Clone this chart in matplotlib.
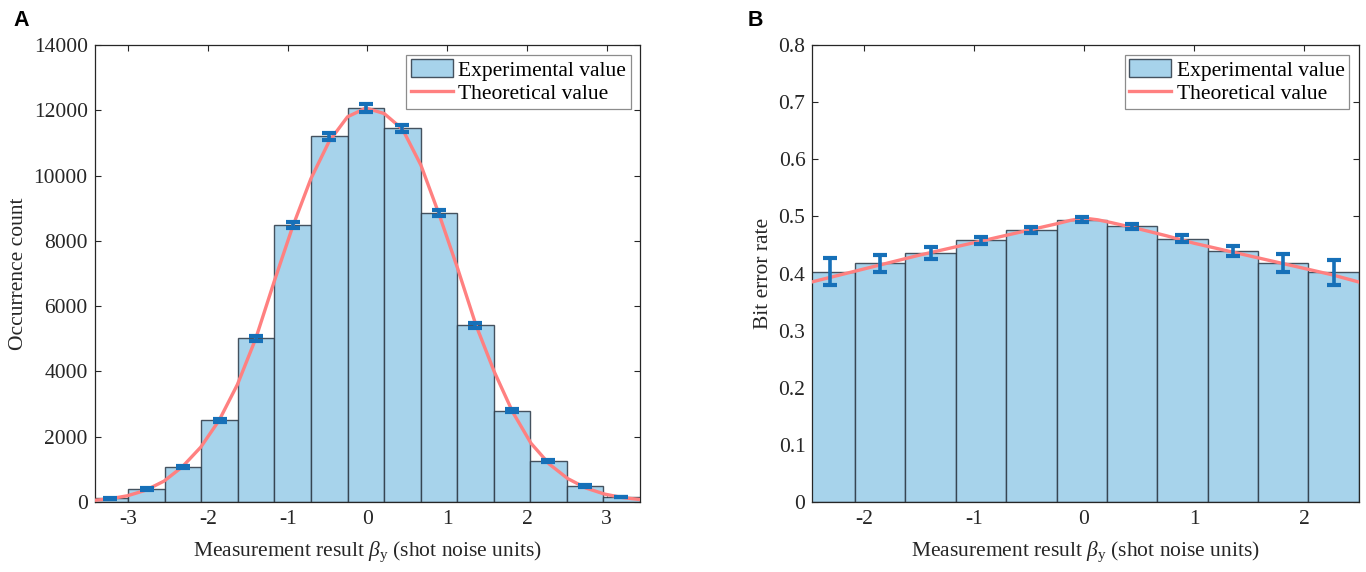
import matplotlib.pyplot as plt

plt.rcParams['font.family'] = 'Liberation Serif'
plt.rcParams['mathtext.fontset'] = 'custom'
plt.rcParams['mathtext.rm'] = 'Liberation Serif'
plt.rcParams['mathtext.it'] = 'Liberation Serif:italic'
plt.rcParams['axes.unicode_minus'] = False

# --- panel A: histogram of measurement results ---
bin_width = 0.458
centers_a = [-3.227, -2.769, -2.311, -1.853, -1.395, -0.937, -0.479, -0.021,
             0.437, 0.895, 1.353, 1.811, 2.269, 2.727, 3.185]
counts_a = [110, 400, 1082, 2502, 5014, 8475, 11202, 12080,
            11447, 8862, 5412, 2797, 1246, 490, 150]
count_err_a = [12, 20, 35, 50, 71, 92, 106, 125, 107, 94, 74, 53, 35, 22, 12]

theory_x_a = [-3.41, -3.24, -3.01, -2.78, -2.55, -2.32, -2.09, -1.86, -1.63,
              -1.40, -1.17, -0.94, -0.71, -0.48, -0.25, -0.02, 0.21, 0.44,
              0.67, 0.90, 1.13, 1.36, 1.59, 1.82, 2.05, 2.28, 2.51, 2.74,
              2.97, 3.20, 3.43]
theory_y_a = [54, 94, 190, 360, 640, 1080, 1680, 2500, 3600, 5010, 6750, 8420,
              9900, 11050, 11800, 12070, 11900, 11420, 10320, 8800, 7160, 5420,
              3990, 2760, 1800, 1160, 718, 427, 244, 134, 71]

# --- panel B: bit error rate per bin ---
centers_b = [-2.311, -1.853, -1.395, -0.937, -0.479, -0.021,
             0.437, 0.895, 1.353, 1.811, 2.269]
ber_b = [0.403, 0.418, 0.436, 0.458, 0.476, 0.494, 0.483, 0.461, 0.439, 0.418, 0.402]
ber_err_b = [0.024, 0.0147, 0.011, 0.0056, 0.0047, 0.0044, 0.0044, 0.006, 0.009,
             0.0156, 0.0225]

theory_x_b = [-2.5, -2.25, -2.0, -1.75, -1.5, -1.25, -1.0, -0.75, -0.5, -0.25,
              -0.125, 0.0, 0.125, 0.25, 0.5, 0.75, 1.0, 1.25, 1.5, 1.75, 2.0,
              2.25, 2.5]
theory_y_b = [0.384, 0.396, 0.408, 0.420, 0.432, 0.443, 0.454, 0.465, 0.476,
              0.487, 0.493, 0.497, 0.494, 0.489, 0.478, 0.466, 0.453, 0.442,
              0.431, 0.420, 0.409, 0.398, 0.385]

bar_color = '#A7D3EB'
bar_edge = (0.17, 0.22, 0.27, 0.85)
err_color = '#1670B8'
curve_color = '#FF8080'
axis_color = '#262626'
fs = 15.5

fig = plt.figure(figsize=(13.66, 5.72), dpi=100)
ax_a = fig.add_axes([0.0693, 0.1224, 0.3994, 0.7989])
ax_b = fig.add_axes([0.5947, 0.1224, 0.4002, 0.7989])


def draw_panel(ax, centers, heights, errs, tx, ty):
    bars = ax.bar(centers, heights, width=bin_width, color=bar_color,
                  edgecolor=bar_edge, linewidth=1.0, zorder=2,
                  label='Experimental value')
    line, = ax.plot(tx, ty, color=curve_color, lw=2.4, zorder=3,
                    label='Theoretical value')
    ax.errorbar(centers, heights, yerr=errs, fmt='none', ecolor=err_color,
                elinewidth=2.6, capsize=4.9, capthick=3.0, zorder=4)
    leg = ax.legend(handles=[bars, line], loc='upper right', fontsize=fs,
                    fancybox=False, framealpha=1, borderpad=0.22,
                    labelspacing=0.1, handlelength=1.95, handleheight=0.9,
                    handletextpad=0.25, borderaxespad=0.45)
    leg.get_frame().set_edgecolor('#8c8c8c')
    leg.get_frame().set_linewidth(0.9)
    for s in ax.spines.values():
        s.set_color(axis_color)
        s.set_linewidth(0.9)
    ax.tick_params(direction='in', top=True, right=True, length=4.3,
                   width=0.8, labelsize=fs, colors=axis_color)
    ax.tick_params(axis='x', pad=6)
    ax.tick_params(axis='y', pad=5)
    ax.set_xlabel(r'Measurement result $\beta_\mathrm{y}$ (shot noise units)',
                  fontsize=fs, color=axis_color, labelpad=7)


draw_panel(ax_a, centers_a, counts_a, count_err_a, theory_x_a, theory_y_a)
ax_a.set_xlim(-3.42, 3.42)
ax_a.set_ylim(0, 14000)
ax_a.set_xticks([-3, -2, -1, 0, 1, 2, 3])
ax_a.set_yticks(range(0, 14001, 2000))
ax_a.set_ylabel('Occurrence count', fontsize=fs, color=axis_color, labelpad=4)

draw_panel(ax_b, centers_b, ber_b, ber_err_b, theory_x_b, theory_y_b)
ax_b.set_xlim(-2.47, 2.50)
ax_b.set_ylim(0, 0.8)
ax_b.set_xticks([-2, -1, 0, 1, 2])
yt = [0, 0.1, 0.2, 0.3, 0.4, 0.5, 0.6, 0.7, 0.8]
ax_b.set_yticks(yt)
ax_b.set_yticklabels(['0', '0.1', '0.2', '0.3', '0.4', '0.5', '0.6', '0.7', '0.8'])
ax_b.set_ylabel('Bit error rate', fontsize=fs, color=axis_color, labelpad=4)

fig.text(13 / 1366, 1 - 26 / 572, 'A', family='Liberation Sans',
         fontweight='bold', fontsize=15.5, va='baseline')
fig.text(748 / 1366, 1 - 26 / 572, 'B', family='Liberation Sans',
         fontweight='bold', fontsize=15.5, va='baseline')

fig.savefig('out.png', dpi=100)
